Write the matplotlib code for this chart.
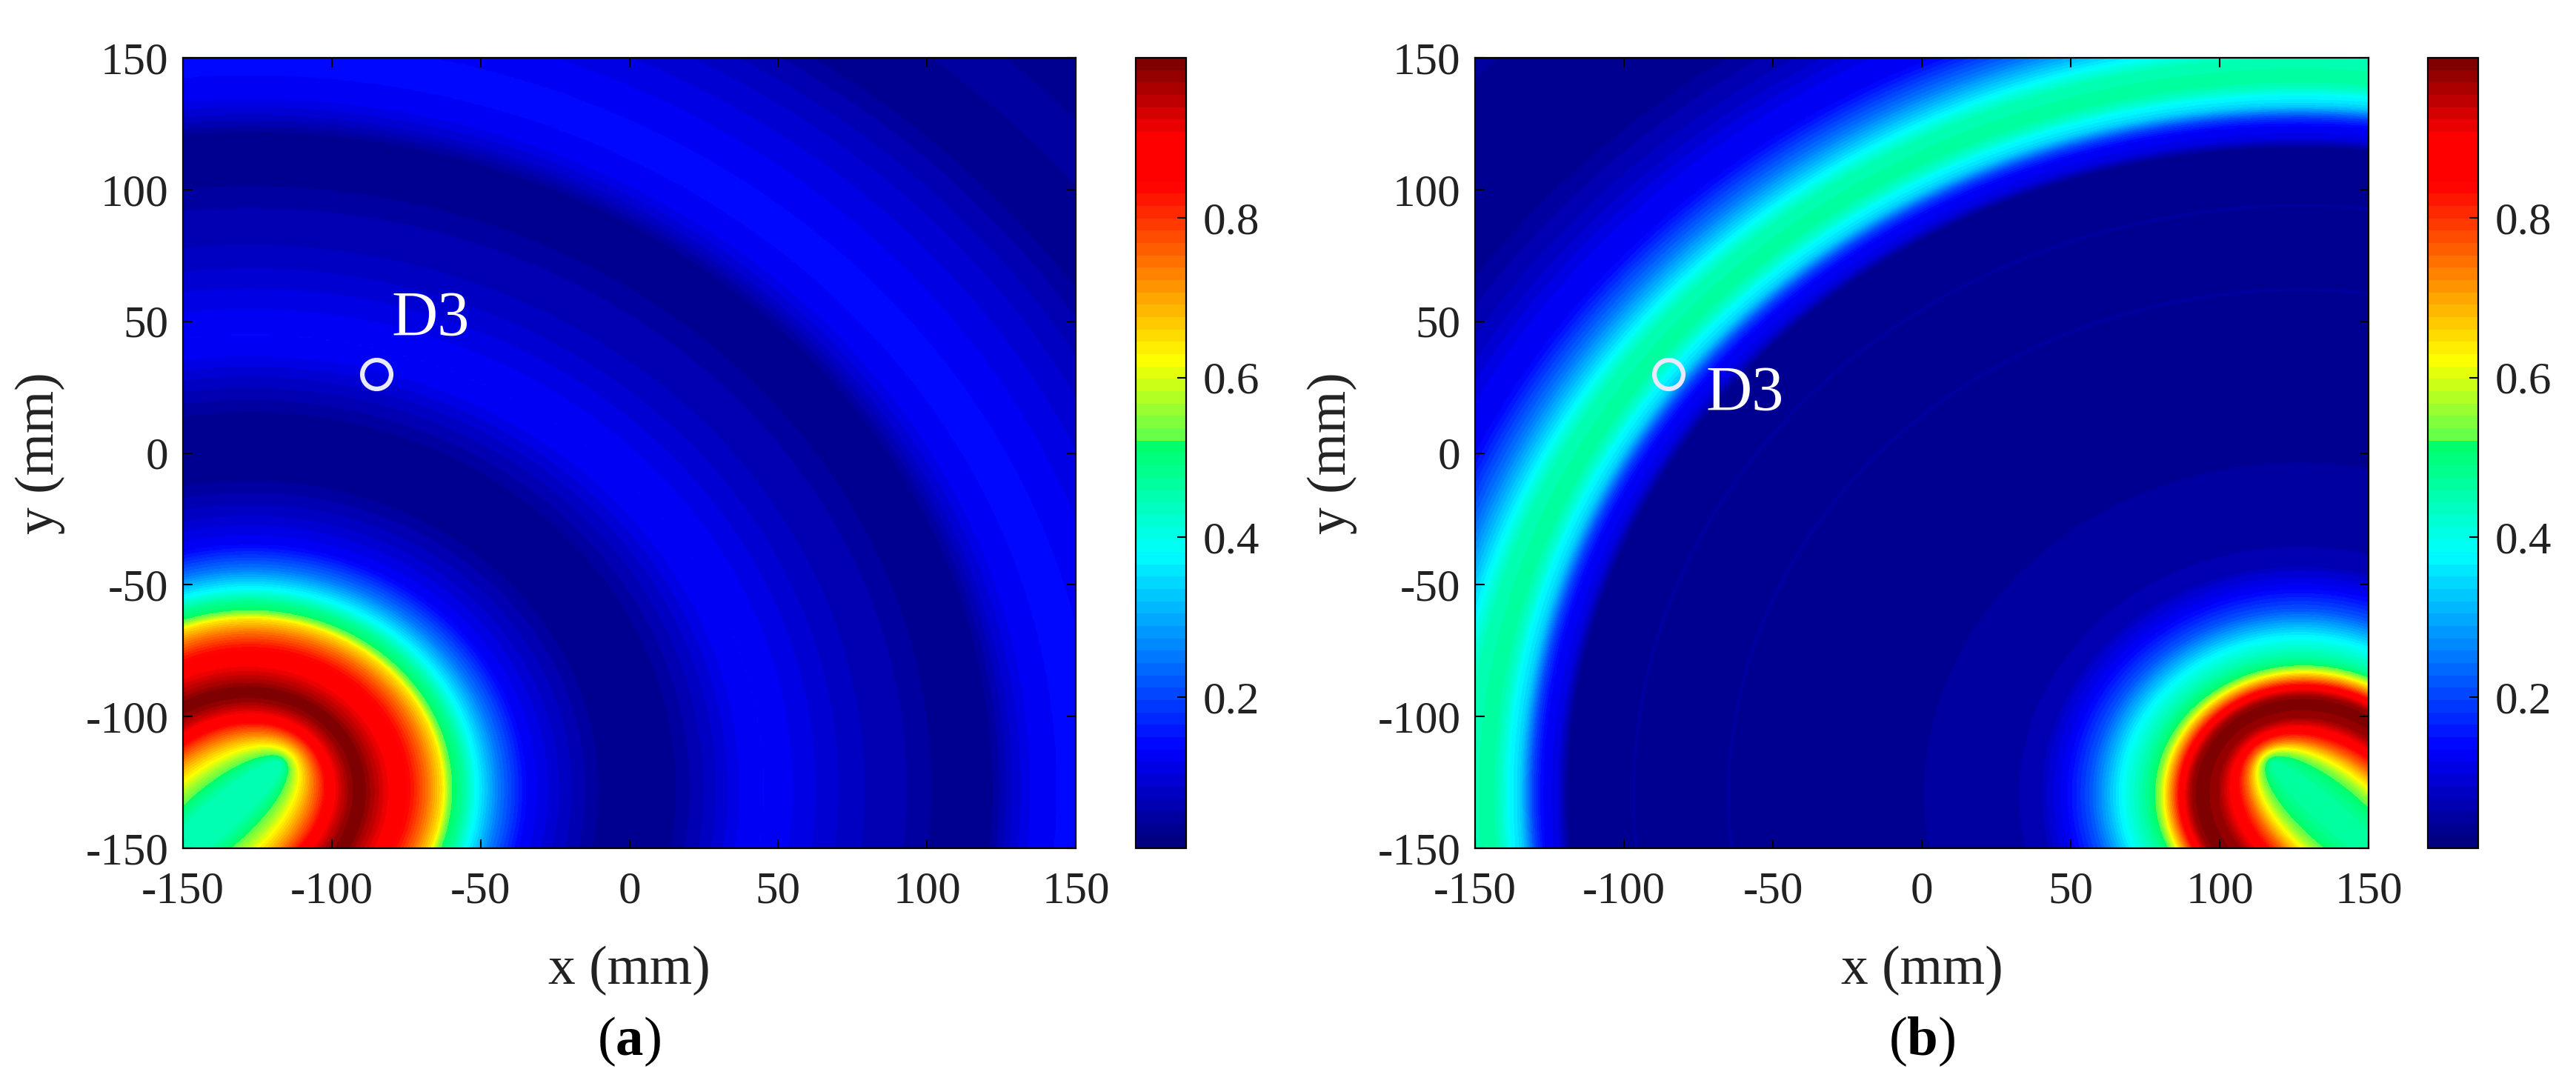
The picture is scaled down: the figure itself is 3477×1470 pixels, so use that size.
import numpy as np
import matplotlib
matplotlib.use('Agg')
import matplotlib.pyplot as plt
from matplotlib.colors import LinearSegmentedColormap, Normalize

plt.rcParams['font.family'] = ['Liberation Serif', 'DejaVu Serif']
plt.rcParams['mathtext.fontset'] = 'custom'
plt.rcParams['mathtext.bf'] = 'Liberation Serif:bold'
plt.rcParams['mathtext.rm'] = 'Liberation Serif'

# ring profiles: radius from the sensor pair (mm), amplitude
radius_a = [0, 17.5, 18.6, 20, 22.5, 25, 28, 31, 35, 38, 44, 50, 55, 60, 65, 67.5, 72, 76, 84, 93,
            105, 118, 125, 135, 143, 155, 165, 173, 180, 190, 205, 220, 228, 236, 244, 250, 257, 264,
            272, 285, 300, 315, 330, 340, 350, 356, 365, 375, 385, 395]
amp_a = [.45, .45, .53, .62, .75, .86, .93, .98, 1.0, .97, .92, .88, .82, .74, .64, .53, .47, .39, .25, .135,
         .085, .04, .032, .032, .04, .08, .12, .135, .125, .105, .075, .06, .045, .03, .03, .04, .09, .125,
         .135, .135, .115, .09, .06, .035, .03, .032, .05, .045, .032, .03]

radius_b = [0, 17, 18.5, 19.5, 21, 23, 26, 31, 34, 38, 41, 45, 48, 52, 60, 70, 78, 85, 88, 100, 125, 128,
            190, 192, 195, 222, 224, 227, 246, 250, 254.8, 258, 262, 264, 266, 268, 272, 280, 284, 286, 295,
            306, 315, 325, 345, 370, 395]
amp_b = [.45, .45, .53, .62, .75, .88, .97, 1.0, .97, .86, .75, .62, .53, .47, .38, .22, .135, .09, .06, .055, .05, .032,
         .032, .045, .032, .032, .045, .032, .032, .11, .135, .2, .33, .36, .38, .42, .47, .45, .4, .37, .25,
         .135, .12, .08, .03, .032, .045]

# sensor geometry (x, y in mm)
centre_a = (-128, -128)
foci_a = [(-160, -160), (-118, -118)]
centre_b = (127, -130)
foci_b = [(160, -160), (118, -118)]

defect = (-85, 30)
xticks = [-150, -100, -50, 0, 50, 100, 150]
tick_text = ['-150', '-100', '-50', '0', '50', '100', '150']
cbar_ticks = [0.2, 0.4, 0.6, 0.8]
cbar_text = ['0.2', '0.4', '0.6', '0.8']

# jet as it appears in the colour bar, with the step in the green
cmap_pos = [0, .12, .372, .517, .517, .62, .845, .905, 1]
cmap_rgb = [(0, 0, .5), (0, 0, 1), (0, 1, 1), (0, 1, .38), (.36, 1, .3), (1, 1, 0), (1, 0, 0), (1, 0, 0), (.5, 0, 0)]
jet = LinearSegmentedColormap.from_list('jet64', list(zip(cmap_pos, cmap_rgb)), N=64)
norm = Normalize(vmin=0.011, vmax=1.0)

W, H = 3477, 1470
fig = plt.figure(figsize=(W / 100, H / 100), dpi=100)


def px_axes(l, t, r, b):
    return fig.add_axes([l / W, 1 - b / H, (r - l) / W, (b - t) / H])


def field(radius, amp, centre, foci):
    xs = np.arange(-150, 151)
    x, y = np.meshgrid(xs, xs)
    r = np.hypot(x - centre[0], y - centre[1])
    # near the sensors the rings turn into ellipses round the pair
    e = (np.hypot(x - foci[0][0], y - foci[0][1]) + np.hypot(x - foci[1][0], y - foci[1][1])) / 2
    blend = np.clip((e - 38) / 25, 0, 1)
    s = (1 - blend) * 0.58 * e + blend * r
    return np.interp(s, radius, amp)


def panel(box, cbox, radius, amp, centre, foci, text_at, letter):
    ax = px_axes(*box)
    im = ax.imshow(field(radius, amp, centre, foci), origin='lower', extent=[-150, 150, -150, 150],
                   aspect='auto', cmap=jet, norm=norm, interpolation='bilinear')
    ax.set_xlim(-150, 150)
    ax.set_ylim(-150, 150)
    ax.set_xticks(xticks)
    ax.set_xticklabels(tick_text)
    ax.set_yticks(xticks)
    ax.set_yticklabels(tick_text)
    ax.tick_params(direction='in', top=True, right=True, length=9, width=1.5, labelsize=44,
                   labelcolor='#222222')
    ax.tick_params(axis='x', pad=22)
    ax.tick_params(axis='y', pad=14)
    for s in ax.spines.values():
        s.set_linewidth(1.6)
    ax.plot(defect[0], defect[1], 'o', mfc='none', mec='#e8e8ff', ms=28, mew=4.5)
    ax.text(text_at[0], text_at[1], 'D3', color='white', fontsize=62, va='baseline', ha='left')
    ax.set_xlabel('x (mm)', fontsize=53, color='#222222', labelpad=33)
    ax.set_ylabel('y (mm)', fontsize=53, color='#222222', labelpad=20)
    ax.text(0.5, -0.245, '($\\mathbf{%s}$)' % letter, transform=ax.transAxes, fontsize=54,
            ha='center', va='center', color='black')

    cax = px_axes(*cbox)
    cb = fig.colorbar(im, cax=cax)
    cb.set_ticks(cbar_ticks)
    cb.set_ticklabels(cbar_text)
    cax.tick_params(direction='in', length=9, width=1.5, labelsize=44, labelcolor='#222222', pad=16)
    cb.outline.set_linewidth(1.6)


panel((247, 78, 1452, 1145), (1533, 78, 1601, 1145), radius_a, amp_a, centre_a, foci_a, (-80, 44.6), 'a')
panel((1991, 78, 3197, 1145), (3277, 78, 3345, 1145), radius_b, amp_b, centre_b, foci_b, (-72.4, 16.2), 'b')

fig.savefig('out.png', dpi=100)
